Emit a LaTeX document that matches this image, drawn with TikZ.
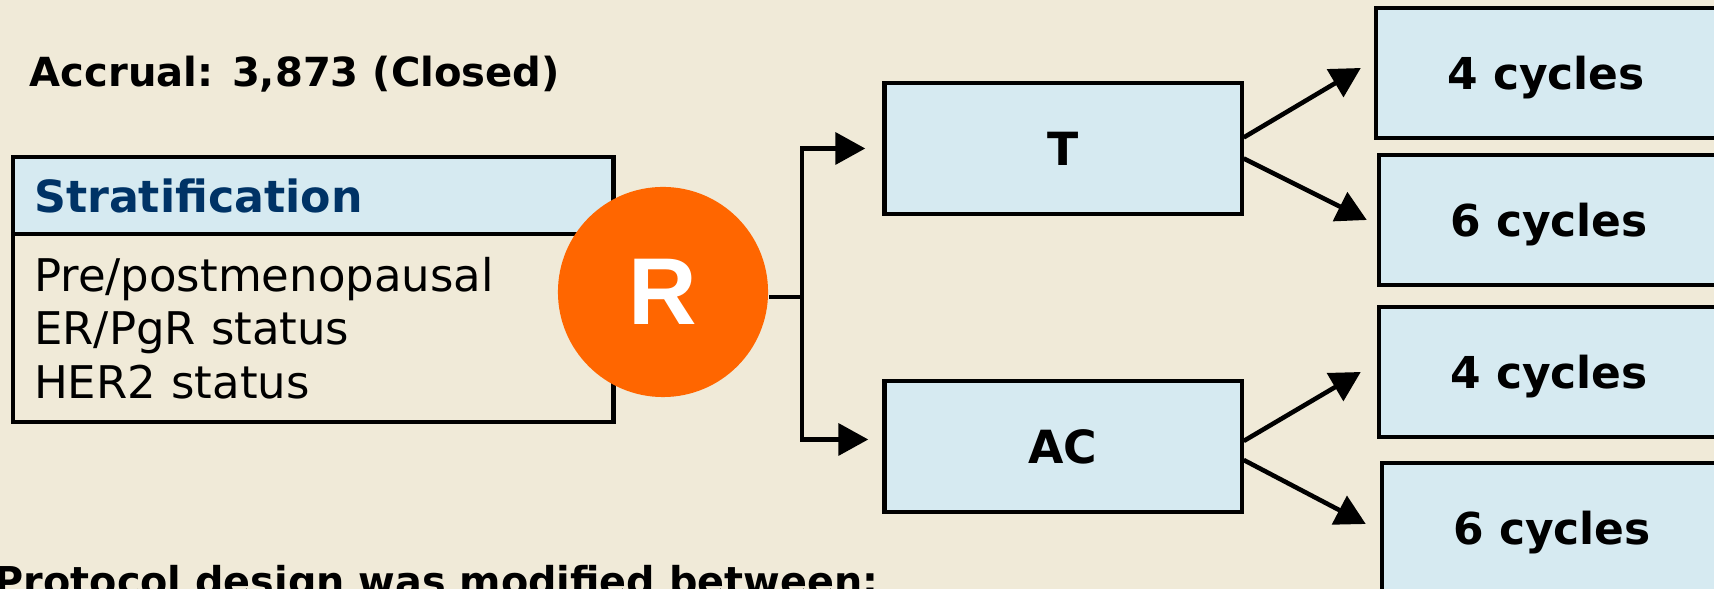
\documentclass[tikz,border=0pt]{standalone}
\usepackage{xcolor}
\usepackage{fontspec}
\setmainfont{DejaVu Sans}
\newfontfamily\rfont{Liberation Sans}
\usepackage{tikz}
\usetikzlibrary{arrows.meta, positioning}

\definecolor{hintergrund}{RGB}{240,234,216}
\definecolor{hellblau}{RGB}{214,234,241}
\definecolor{orange}{RGB}{255,102,0}
\definecolor{dunkelblau}{RGB}{0,51,102}

\begin{document}
\begin{tikzpicture}[x=0.01cm, y=-0.01cm,
    kasten/.style={draw, line width=1.2pt, fill=hellblau, inner sep=0pt},
    pfeil/.style={line width=1.3pt, -{Triangle[length=8.5pt, width=9pt]}},
    linie/.style={line width=1.3pt}]
  \useasboundingbox (0,0) rectangle (1714,589);
  \clip (0,0) rectangle (1714,589);
  \fill[hintergrund] (0,0) rectangle (1714,589);   % Hintergrund

  \node[anchor=base west, inner sep=0pt, font=\fontsize{11.4}{14}\selectfont\bfseries] (accrual) at (29,87) {Accrual: 3,873 (Closed)};

  % Stratifikation
  \node[kasten, anchor=north west, minimum width=6cm, minimum height=0.77cm,
        text width=5.58cm, inner xsep=0.21cm, align=left, text=dunkelblau,
        font=\fontsize{12.6}{15}\selectfont\bfseries] (strathead) at (11,155) {Stratification};
  \node[draw, line width=1.2pt, anchor=north west, minimum width=6cm, minimum height=1.88cm,
        text width=5.58cm, inner xsep=0.21cm, inner ysep=0pt, align=left,
        font=\fontsize{12.8}{15.3}\selectfont] (stratbody) at (11,232)
        {Pre/postmenopausal\\ER/PgR status\\HER2 status};

  \node[circle, fill=orange, minimum size=2.10cm, inner sep=0pt, text=white,
        font=\rfont\fontsize{27}{30}\selectfont\bfseries] (R) at (663,292) {R};

  % Arme
  \node[kasten, minimum width=3.57cm, minimum height=1.31cm, font=\fontsize{13}{15}\selectfont\bfseries] (T) at (1063,148.5) {T};
  \node[kasten, minimum width=3.57cm, minimum height=1.31cm, font=\fontsize{13}{15}\selectfont\bfseries] (AC) at (1063,446.5) {AC};

  % Zyklen
  \foreach \name/\xx/\yy/\txt in {c1/1546/73/4, c2/1549/220/6, c3/1549/372/4, c4/1552/528/6}
    \node[kasten, minimum width=3.40cm, minimum height=1.30cm, text depth=0pt,
          font=\fontsize{12.5}{15}\selectfont\bfseries] (\name) at (\xx,\yy) {\txt{} cycles};

  \coordinate (split) at (802,297);
  \draw[linie] (R.east |- split) -- (split);
  \draw[pfeil] (split) |- ([xshift=-0.17cm]T.west);
  \draw[pfeil] (split) |- ([xshift=-0.14cm,yshift=0.07cm]AC.west);

  \draw[pfeil] ([yshift=0.11cm]T.east) -- ([xshift=-0.13cm,yshift=0.05cm]c1.west);
  \draw[pfeil] ([yshift=-0.10cm]T.east) -- ([xshift=-0.10cm]c2.west);
  \draw[pfeil] ([yshift=0.055cm]AC.east) -- ([xshift=-0.16cm]c3.west);
  \draw[pfeil] ([yshift=-0.135cm]AC.east) -- ([xshift=-0.14cm,yshift=0.04cm]c4.west);

  \node[anchor=base west, inner sep=0pt, font=\fontsize{11.3}{14}\selectfont\bfseries] (note) at (-6,596) {Protocol design was modified between:};
\end{tikzpicture}
\end{document}
